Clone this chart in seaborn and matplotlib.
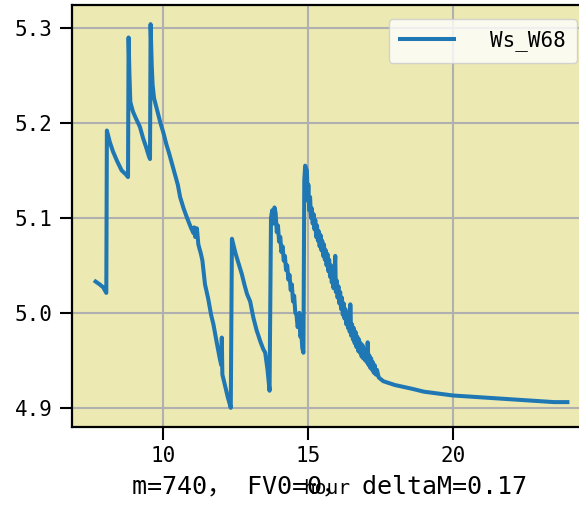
import matplotlib
matplotlib.use("Agg")
import matplotlib.pyplot as plt
import seaborn as sns
import pandas as pd

hour = [7.66, 7.80, 7.92, 8.03, 8.05, 8.15, 8.26, 8.40, 8.56, 8.70, 8.78, 8.80, 8.83, 8.86,
        8.95, 9.05, 9.19, 9.30, 9.40, 9.50, 9.54, 9.56, 9.60, 9.63, 9.68, 9.80, 9.90, 10.00,
        10.10, 10.20, 10.29, 10.40, 10.50, 10.58, 10.70, 10.82, 10.95, 11.04, 11.07, 11.10,
        11.16, 11.19, 11.21, 11.30, 11.35, 11.44, 11.55, 11.65, 11.73, 11.85, 11.95, 12.00,
        12.02, 12.04, 12.12, 12.22, 12.33, 12.37, 12.42, 12.50, 12.60, 12.71, 12.80, 12.89,
        13.00, 13.11, 13.22, 13.35, 13.45, 13.52, 13.60, 13.67, 13.72, 13.76, 13.80, 13.84,
        13.88, 13.92, 13.96, 14.00, 14.04, 14.08, 14.12, 14.16, 14.20, 14.24, 14.28, 14.32,
        14.36, 14.40, 14.44, 14.48, 14.52, 14.56, 14.60, 14.64, 14.67, 14.70, 14.73, 14.77,
        14.80, 14.84,
        14.87, 14.90, 14.93, 14.96, 14.99, 15.01, 15.04, 15.07, 15.10, 15.13, 15.16, 15.19,
        15.22, 15.25, 15.28, 15.31, 15.34, 15.37, 15.40, 15.43, 15.46, 15.49, 15.52, 15.55,
        15.58, 15.61, 15.64, 15.67, 15.70, 15.73, 15.76, 15.79, 15.82, 15.85, 15.88, 15.91,
        15.94, 15.96, 15.99, 16.02, 16.05, 16.08, 16.11, 16.14, 16.17, 16.20, 16.23, 16.26,
        16.29, 16.32, 16.35, 16.38, 16.41, 16.44, 16.46, 16.49, 16.52, 16.55, 16.58, 16.61,
        16.64, 16.67, 16.70, 16.73, 16.76, 16.79, 16.82, 16.85, 16.88, 16.91, 16.94, 16.97,
        17.00, 17.03, 17.06, 17.09, 17.12, 17.15, 17.18, 17.21, 17.24, 17.27, 17.30, 17.34,
        17.38, 17.44, 17.52, 17.60, 17.80, 18.00, 18.30, 18.60, 19.00, 19.50, 20.00, 20.50,
        21.00, 21.50, 22.00, 22.50, 23.00, 23.50, 23.96]
ws_w68 = [5.033, 5.030, 5.027, 5.021, 5.192, 5.180, 5.170, 5.160, 5.150, 5.146, 5.143, 5.290,
          5.250, 5.222, 5.212, 5.205, 5.196, 5.184, 5.175, 5.165, 5.162, 5.304, 5.260, 5.240,
          5.226, 5.212, 5.200, 5.190, 5.178, 5.168, 5.158, 5.146, 5.135, 5.122, 5.110, 5.100,
          5.090, 5.084, 5.090, 5.080, 5.089, 5.078, 5.072, 5.062, 5.055, 5.030, 5.015, 4.998,
          4.988, 4.968, 4.952, 4.945, 4.974, 4.935, 4.925, 4.912, 4.900, 5.078, 5.072, 5.062,
          5.052, 5.041, 5.030, 5.020, 5.012, 4.995, 4.982, 4.970, 4.962, 4.958, 4.940, 4.918,
          5.100, 5.108, 5.094, 5.111,
          5.105, 5.085, 5.092, 5.075, 5.080, 5.064, 5.070, 5.055, 5.060, 5.045, 5.050, 5.035,
          5.040, 5.024, 5.030, 5.012, 5.018, 5.000, 4.998, 4.985, 4.990, 5.000, 4.975, 4.978,
          4.963, 4.958,
          5.140, 5.155, 5.152, 5.150, 5.118, 5.135, 5.108, 5.122, 5.100, 5.110, 5.094, 5.104,
          5.088, 5.098, 5.080, 5.092, 5.076, 5.086, 5.070, 5.082, 5.066, 5.076, 5.060, 5.072,
          5.056, 5.066, 5.050, 5.062, 5.044, 5.056, 5.038, 5.050, 5.032, 5.044, 5.026, 5.040,
          5.060, 5.022, 5.034, 5.016, 5.028, 5.010, 5.022, 5.004, 5.016, 4.998, 5.010, 4.994,
          5.004, 4.988, 5.000, 4.984, 4.994, 4.980, 5.009, 4.976, 4.988, 4.972, 4.984, 4.968,
          4.980, 4.964, 4.975, 4.960, 4.972, 4.958, 4.968, 4.954, 4.966, 4.952, 4.962, 4.950,
          4.960, 4.948, 4.969, 4.945, 4.955, 4.942, 4.952, 4.940, 4.948, 4.937, 4.945, 4.935,
          4.940, 4.932, 4.930, 4.928, 4.926, 4.924, 4.922, 4.920, 4.917, 4.915, 4.913, 4.912,
          4.911, 4.910, 4.909, 4.908, 4.907, 4.906, 4.906]
series_label = "Ws_W68"
x_label = "hour"
note = "m=740， FV0=0， deltaM=0.17"

plt.rcParams['font.family'] = ['DejaVu Sans Mono', 'Noto Sans CJK SC']

df = pd.DataFrame({"hour": hour, "ws": ws_w68})

fig = plt.figure(figsize=(5.79, 5.08), dpi=100)
ax = fig.add_axes([72 / 579, 81 / 508, 519 / 579, 422 / 508])
ax.set_facecolor('#ECE9B3')
ax.set_axisbelow(True)
ax.grid(True, color='#b0b0b0', linewidth=1.5)

sns.lineplot(data=df, x="hour", y="ws", ax=ax, color='#1f77b4', linewidth=2.9,
             estimator=None, sort=False, label=series_label)

ax.set_xticks([10, 15, 20])
ax.set_yticks([4.9, 5.0, 5.1, 5.2, 5.3])
ax.tick_params(labelsize=15, length=9, width=1.5, pad=5)
for s in ax.spines.values():
    s.set_linewidth(1.6)
ax.set_ylabel("")
ax.set_xlabel(x_label, fontsize=14)
ax.xaxis.label.set_va('baseline')
ax.xaxis.set_label_coords((327 - 72) / 519, -(494 - 427) / 422)

leg = ax.legend(loc='upper right', bbox_to_anchor=(577 / 579, (508 - 19) / 508),
                bbox_transform=fig.transFigure, borderaxespad=0.0,
                fontsize=15, handlelength=2.6, handletextpad=1.7,
                framealpha=0.8, borderpad=0.55)
leg.get_frame().set_edgecolor('#cccccc')

fig.text(330 / 579, (508 - 493) / 508, note, fontsize=18, ha='center', va='baseline')

fig.savefig("out.png", dpi=100)
